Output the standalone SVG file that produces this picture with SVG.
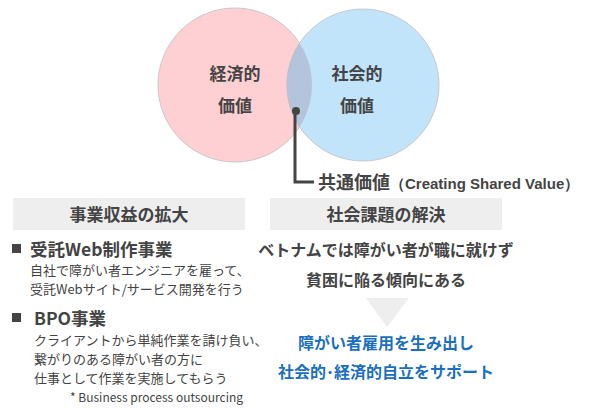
<svg xmlns="http://www.w3.org/2000/svg" width="600" height="410" viewBox="0 0 600 410">
<style>
text{font-family:"Noto Sans CJK JP","Liberation Sans",sans-serif;fill:#444}
.b{font-weight:bold}
.h{font-size:17px;font-weight:bold;text-anchor:middle}
.s{font-size:13px}
.c{font-size:16px;font-weight:bold;text-anchor:middle}
.v{font-size:17px}
.bl{fill:#1a6fc0}
</style>
<defs><clipPath id="cl"><circle cx="235" cy="85" r="77"/></clipPath></defs>
<rect width="600" height="410" fill="#fff"/>
<g id="venn">
<circle id="econ" cx="235" cy="85" r="77" fill="#ffd0d3" stroke="#c8c8c8"/>
<circle id="social" cx="363" cy="85" r="76" fill="#c2e4fb" stroke="#c8c8c8"/>
<circle cx="363" cy="85" r="76" fill="#b4c4dc" clip-path="url(#cl)" stroke="#c0c0c0"/>
<text class="c v" x="235" y="80">経済的</text>
<text class="c v" x="235" y="112">価値</text>
<text class="c v" x="357" y="80">社会的</text>
<text class="c v" x="357" y="112">価値</text>
</g>
<g id="connectors">
<circle cx="296" cy="111" r="4" fill="#444"/>
<path d="M295 111 V182 H314" fill="none" stroke="#444" stroke-width="3"/>
</g>
<g id="csv"><text x="318" y="189" class="b" font-size="18">共通価値<tspan font-size="15" font-family="Liberation Sans,sans-serif">（Creating Shared Value）</tspan></text></g>
<g id="left">
<rect x="13" y="198" width="232" height="32" fill="#eee"/>
<text class="h" x="129" y="221">事業収益の拡大</text>
<rect x="12" y="244" width="9" height="9" fill="#444"/>
<text x="30" y="256" class="b" font-size="17.5">受託Web制作事業</text>
<text x="30" y="275" class="s">自社で障がい者エンジニアを雇って、</text>
<text x="30" y="294" class="s">受託Webサイト/サービス開発を行う</text>
<rect x="12" y="313" width="9" height="9" fill="#444"/>
<text x="34" y="325" class="b" font-size="17.5">BPO事業</text>
<text x="34" y="345" class="s">クライアントから単純作業を請け負い、</text>
<text x="34" y="364" class="s">繋がりのある障がい者の方に</text>
<text x="34" y="383" class="s">仕事として作業を実施してもらう</text>
<text x="70" y="402" font-size="12" font-family="Liberation Sans,sans-serif">* Business process outsourcing</text>
</g>
<g id="right">
<rect x="270" y="198" width="232" height="32" fill="#eee"/>
<text class="h" x="386" y="221">社会課題の解決</text>
<text class="c" x="386" y="256">ベトナムでは障がい者が職に就けず</text>
<text class="c" x="386" y="286">貧困に陥る傾向にある</text>
<polygon points="366,298 409,298 387,327" fill="#eee"/>
<text class="c bl" x="386" y="349">障がい者雇用を生み出し</text>
<text class="c bl" x="386" y="378">社会的･経済的自立をサポート</text>
</g>
</svg>
